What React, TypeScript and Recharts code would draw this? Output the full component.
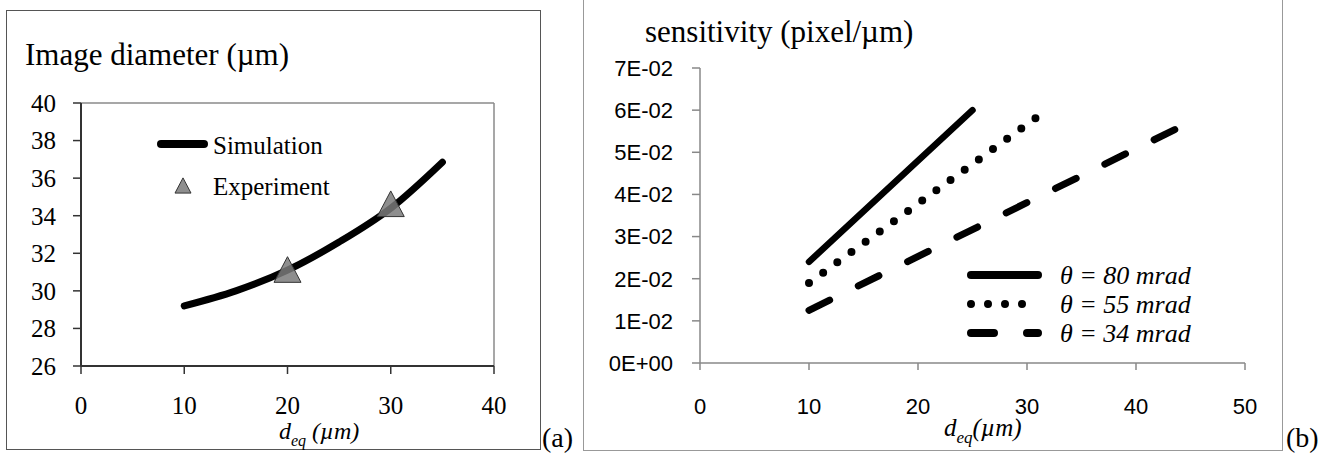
import { ComposedChart, LineChart, Line, Scatter, XAxis, YAxis, ReferenceLine } from "recharts"

// panel (a): image diameter vs d_eq
const simDeq = [10, 15, 20, 25, 30, 35]
const simDiameter = [29.2, 30.0, 31.1, 32.6, 34.4, 36.85]
const expDeq = [20, 30]
const expDiameter = [31.0, 34.5]
const diameterTicks = [26, 28, 30, 32, 34, 36, 38, 40]
const deqTicksA = [0, 10, 20, 30, 40]

// panel (b): sensitivity vs d_eq
const thetaLabels = ["θ = 80 mrad", "θ = 55 mrad", "θ = 34 mrad"]
const deq80 = [10, 25]
const sens80 = [0.024, 0.06]
const deq55 = [10, 31]
const sens55 = [0.019, 0.0585]
const deq34 = [10, 44.5]
const sens34 = [0.0125, 0.0566]
const sensTicks = [0, 0.01, 0.02, 0.03, 0.04, 0.05, 0.06, 0.07]
const deqTicksB = [0, 10, 20, 30, 40, 50]

const toPoints = (xs: number[], ys: number[]) => xs.map((x, i) => ({ x, y: ys[i] }))

const serif = "Liberation Serif"
const sans = "Liberation Sans"

const simData = toPoints(simDeq, simDiameter)
const expData = toPoints(expDeq, expDiameter)

const series = [
  { name: thetaLabels[0], data: toPoints(deq80, sens80), dash: undefined, width: 6.5 },
  { name: thetaLabels[1], data: toPoints(deq55, sens55), dash: "0 17.5", width: 8 },
  { name: thetaLabels[2], data: toPoints(deq34, sens34), dash: "23 32", width: 7 },
]

const sensFormat = (v: number) => (v === 0 ? "0E+00" : `${Math.round(v * 100)}E-02`)

// custom tick so the font family is applied for sure
const makeTick =
  (font: string, size: number, anchor: "middle" | "end", dy: string, fmt: (v: number) => string = String) =>
  (props: any) => (
    <text
      x={props.x}
      y={props.y}
      dy={dy}
      textAnchor={anchor}
      fill="#000"
      style={{ fontFamily: font, fontSize: size }}
    >
      {fmt(props.payload.value)}
    </text>
  )

function Triangle({ cx, cy, size }: { cx: number; cy: number; size: number }) {
  const h = size * 0.95
  const pts = `${cx},${cy - h * 0.6} ${cx - size / 2},${cy + h * 0.4} ${cx + size / 2},${cy + h * 0.4}`
  return <polygon points={pts} fill="#7a7a7a" fillOpacity={0.85} stroke="#333" strokeWidth={1} />
}

const abs = (left: number, top: number, extra: React.CSSProperties = {}): React.CSSProperties => ({
  position: "absolute",
  left,
  top,
  lineHeight: 1,
  whiteSpace: "nowrap",
  ...extra,
})

export default function App() {
  return (
    <div style={{ position: "fixed", left: 0, top: 0, width: 1340, height: 455, background: "#fff", overflow: "hidden" }}>
      {/* panel frames */}
      <div style={{ position: "absolute", left: 6, top: 10, width: 533, height: 438, border: "1px solid #555" }} />
      <div style={{ position: "absolute", left: 583, top: -2, width: 698, height: 451, border: "1.5px solid #999" }} />

      <div style={{ position: "absolute", left: 0, top: 0 }}>
        <ComposedChart width={540} height={455} margin={{ top: 103, right: 46, bottom: 59, left: 0 }}>
          <XAxis
            type="number"
            dataKey="x"
            domain={[0, 40]}
            ticks={deqTicksA}
            height={30}
            axisLine={{ stroke: "#333", strokeWidth: 2 }}
            tickLine={{ stroke: "#333", strokeWidth: 1.5 }}
            tickSize={8}
            tickMargin={22}
            tick={makeTick(serif, 25, "middle", "0.71em")}
          />
          <YAxis
            type="number"
            dataKey="y"
            domain={[26, 40]}
            ticks={diameterTicks}
            width={81}
            axisLine={{ stroke: "#333", strokeWidth: 2 }}
            tickLine={{ stroke: "#333", strokeWidth: 1.5 }}
            tickSize={8}
            tickMargin={17}
            tick={makeTick(serif, 25, "end", "0.355em")}
          />
          <ReferenceLine y={40} stroke="#8a8a8a" strokeWidth={1.5} />
          <ReferenceLine x={40} stroke="#8a8a8a" strokeWidth={1.5} />
          <Line
            data={simData}
            dataKey="y"
            type="monotone"
            stroke="#000"
            strokeWidth={7}
            strokeLinecap="round"
            dot={false}
            activeDot={false}
            isAnimationActive={false}
          />
          <Scatter
            data={expData}
            dataKey="y"
            isAnimationActive={false}
            shape={(p: any) => <Triangle cx={p.cx} cy={p.cy} size={27} />}
          />
        </ComposedChart>
      </div>

      {/* legend (a) */}
      <svg style={{ position: "absolute", left: 0, top: 0 }} width={540} height={455}>
        <line x1={161} y1={144} x2={204} y2={144} stroke="#000" strokeWidth={8} strokeLinecap="round" />
        <text x={213} y={154} style={{ fontFamily: serif, fontSize: 25 }}>Simulation</text>
        <Triangle cx={183} cy={187} size={16} />
        <text x={213} y={195} style={{ fontFamily: serif, fontSize: 25 }}>Experiment</text>
      </svg>

      <div style={abs(25, 39, { fontFamily: serif, fontSize: 31 })}>Image diameter (µm)</div>
      <div style={abs(279, 419, { fontFamily: serif, fontSize: 24, fontStyle: "italic" })}>
        d<span style={{ fontSize: 16, position: "relative", top: 7 }}>eq</span> (µm)
      </div>
      <div style={abs(542, 424, { fontFamily: serif, fontSize: 28 })}>(a)</div>

      <div style={{ position: "absolute", left: 583, top: 0 }}>
        <LineChart width={699} height={455} margin={{ top: 68, right: 37, bottom: 62, left: 17 }}>
          <XAxis
            type="number"
            dataKey="x"
            domain={[0, 50]}
            ticks={deqTicksB}
            height={30}
            axisLine={{ stroke: "#888", strokeWidth: 1.5 }}
            tickLine={{ stroke: "#888", strokeWidth: 1.5 }}
            tickSize={7}
            tickMargin={28}
            tick={makeTick(sans, 22, "middle", "0.71em")}
          />
          <YAxis
            type="number"
            domain={[0, 0.07]}
            ticks={sensTicks}
            width={100}
            axisLine={{ stroke: "#888", strokeWidth: 1.5 }}
            tickLine={{ stroke: "#888", strokeWidth: 1.5 }}
            tickSize={8}
            tickMargin={19}
            tick={makeTick(sans, 22, "end", "0.355em", sensFormat)}
          />
          {series.map((s) => (
            <Line
              key={s.name}
              data={s.data}
              dataKey="y"
              name={s.name}
              type="linear"
              stroke="#000"
              strokeWidth={s.width}
              strokeDasharray={s.dash}
              strokeLinecap="round"
              dot={false}
              activeDot={false}
              isAnimationActive={false}
            />
          ))}
        </LineChart>
      </div>

      {/* legend (b) */}
      <svg style={{ position: "absolute", left: 0, top: 0 }} width={1340} height={455}>
        {series.map((s, i) => {
          const y = 275 + i * 29
          return (
            <g key={s.name}>
              <line
                x1={971}
                y1={y}
                x2={1038}
                y2={y}
                stroke="#000"
                strokeWidth={8}
                strokeLinecap="round"
                strokeDasharray={i === 1 ? "0 17" : i === 2 ? "23 33" : undefined}
              />
              <text x={1060} y={y + 9} style={{ fontFamily: serif, fontSize: 26, fontStyle: "italic" }}>
                {s.name}
              </text>
            </g>
          )
        })}
      </svg>

      <div style={abs(645, 16, { fontFamily: serif, fontSize: 31 })}>sensitivity (pixel/µm)</div>
      <div style={abs(944, 415, { fontFamily: serif, fontSize: 25, fontStyle: "italic" })}>
        d<span style={{ fontSize: 17, position: "relative", top: 7 }}>eq</span>(µm)
      </div>
      <div style={abs(1286, 424, { fontFamily: serif, fontSize: 28 })}>(b)</div>
    </div>
  )
}
